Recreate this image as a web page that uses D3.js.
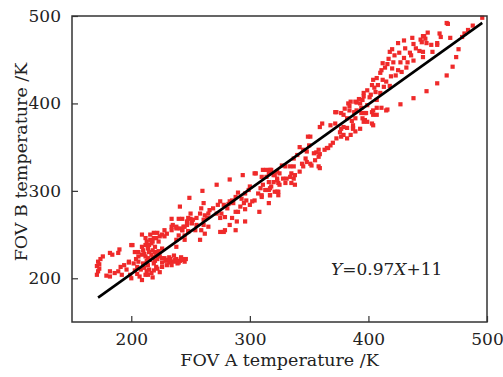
<!DOCTYPE html>
<html>
<head>
<meta charset="utf-8">
<script src="https://cdn.jsdelivr.net/npm/d3@7"></script>
<style>
  body { margin: 0; background: #fff; }
  text { font-family: "DejaVu Serif", "Liberation Serif", serif; fill: #222; }
</style>
</head>
<body>
<div id="chart"></div>
<script>
// axis ticks
var xTicks = [200, 300, 400, 500];
var yTicks = [200, 300, 400, 500];

// fit: Y = 0.97X + 11
var fitSlope = 0.97, fitIntercept = 11;
var fitRange = [172, 496];

// points, grouped by where they sit
var lowCluster = [
  [171,204],[172,208],[171,214],[172,219],[174,222],[176,225],[173,211],[173,216],
  [184,227],[189,229],[182,208],[186,206],[179,203],[201,238],[198,218],[191,213],[182,202],[189,208],[192,204],[200,200],[199,204],[190,233],[182,229],
  [200,238],[203,230],[206,230],[209,227],[206,225],[212,225],[214,223],[217,227],[221,227],[224,225],[228,223],[226,223],[230,221],[233,219],[237,221],[241,220],[244,221],[234,215],[230,215],[198,219],[202,217],[206,219],[210,217],[214,215],[219,217],[221,213],[226,213],[207,202],[209,198],[212,204],
  [212,238],[210,232],[214,234],[220,236],[226,234],[213,242],[216,244],[219,246],[221,246],[224,248],[223,242],[217,240],[228,248],[230,251],[228,255],[234,259],[238,257],[243,255],[245,259],[248,254],[238,236],
  [208,210],[211,212],[213,208],[215,210],[217,206],[219,209],[222,211],[224,207],[213,220],[216,221],[218,224],[220,220],[222,222],[211,228],[215,230],[218,232],[220,230],[223,231],[209,236],[215,238],[218,242],[212,246],[216,250],[219,252],[222,252],[226,250],[210,216],[205,213],[203,209],[196,210],[194,215],[204,222],[226,218],[232,224],[236,226],[239,217],[242,224],[246,222],[209,250],[214,204],[218,201],[205,205],
  [229,220],[232,218],[236,219],[240,218],[245,219],[243,222],[238,222],[233,222]
];

var midBand = [
  [234,268],[240,268],[241,282],[243,268],[247,265],[250,268],[251,263],[249,292],[260,300],[272,307],[283,313],
  [317,324],[320,318],[323,314],[324,309],[316,310],[314,316],[317,303],[321,299],[317,295],[324,299],[316,286],[305,320],[309,303],[307,297],[310,293],[304,289],[302,288],[300,284],[308,276],[300,305],[299,301],[296,297],[293,291],[297,289],[295,286],[292,282],[296,279],[290,276],[288,276],[296,265],[290,298],[288,293],[285,289],[283,288],[286,286],[282,285],[278,284],[281,280],[275,288],[273,284],[269,280],[266,278],[272,274],[276,274],[279,270],[275,269],[285,269],[289,265],[283,261],[279,255],[275,253],[288,255],
  [261,286],[259,280],[258,274],[262,272],[265,274],[264,269],[261,267],[255,269],[252,267],[250,274],[248,269],[251,263],[255,261],[261,261],[265,259],[259,255],[262,251],[254,255],[247,261],[244,259],[241,257],[238,259],[235,261],[234,255],[243,255],[248,253],[245,249],[240,249],[238,244],[258,244],[245,244],[278,253],[294,318],[304,320],[310,316],[311,324],
  [385,402],[390,401],[395,404],[399,398],[384,392],[390,392],[394,389],[397,381],[399,379],[372,390],[377,389],[382,383],[386,380],[387,372],[389,368],[372,377],[379,373],[382,372],[368,375],[361,377],[359,373],[376,367],[377,362],[373,360],[370,355],[368,352],[366,349],[365,349],[363,347],[358,347],[356,344],[359,342],[358,339],[351,362],[350,352],[345,347],[348,345],[354,343],[342,350],[340,341],[337,337],[347,337],[348,333],[351,331],[352,329],[355,335],[358,328],[359,326],[344,331],[345,328],[342,322],[337,328],[334,328],[330,328],[327,329],[335,320],[338,318],[334,316],[331,314],[325,320],[323,322],[321,318],[318,324],[314,324],[316,320],[328,314],[330,309],[325,307],[323,312],[320,310],[337,314],[338,307],[335,309],[318,305],[316,301],[313,301],[310,295],[317,295],[324,295],[323,299],[311,307],[349,362],
  [404,387],[403,390],[407,387],[411,395],[415,392],[397,389],[396,379],[393,371],[387,371],[385,364],[382,360],[379,364],[377,371],[403,377],[404,375]
];

var upperHump = [
  [466,492],[450,481],[460,480],[437,475],[444,473],[430,472],[425,469],[438,468],[447,477],[449,469],[458,469],[443,460],[431,463],[418,459],[422,455],[417,451],[421,447],[427,447],[433,447],[438,449],[412,446],[414,441],[425,438],[428,436],[411,438],[410,435],[419,431],[407,429],[412,427],[404,427],[403,421],[408,421],[413,419],[399,415],[406,413],[396,408],[401,407],[407,404],[393,400],[383,400],[389,402],[394,395],[398,389],[404,392],[416,393],[373,390],[379,387],[389,383],[395,383],[387,375],
  [467,491],[446,477],[448,474],[445,470],[461,476],[453,467],[458,467],[469,475],[446,459],[446,453],[454,459],
  [420,462],[426,458],[435,458],[430,452],[416,445],[420,440],[432,441],[423,432],[415,425],[418,420],[405,418],[402,410],[396,412],[410,412],[392,405],[384,397],[380,394],[388,390],[440,463],[436,455]
];

var lowerBranch = [
  [407,395],[427,399],[438,406],[449,414],[458,423],[466,432],[471,442],[474,453],[476,462],[479,476],[481,480],[484,484],[488,489],[496,498]
];

var width = 503, height = 377;
var margin = {top: 16, right: 16, bottom: 55, left: 72};
var w = width - margin.left - margin.right;
var h = height - margin.top - margin.bottom;

var svg = d3.select("#chart").append("svg")
  .attr("width", width)
  .attr("height", height);

var g = svg.append("g")
  .attr("transform", "translate(" + margin.left + "," + margin.top + ")");

var x = d3.scaleLinear().domain([150, 500]).range([0, w]);
var y = d3.scaleLinear().domain([150, 500]).range([h, 0]);

var allPoints = lowCluster.concat(midBand, upperHump, lowerBranch);

// points
var sz = 4.2;
g.append("g")
  .selectAll("rect")
  .data(allPoints)
  .enter().append("rect")
  .attr("x", function(d) { return x(d[0]) - sz / 2; })
  .attr("y", function(d) { return y(d[1]) - sz / 2; })
  .attr("width", sz)
  .attr("height", sz)
  .style("fill", "#ef2a2a");

// fit line
var line = d3.line()
  .x(function(d) { return x(d); })
  .y(function(d) { return y(fitSlope * d + fitIntercept); });
g.append("path")
  .datum(fitRange)
  .attr("d", line)
  .style("fill", "none")
  .style("stroke", "#000")
  .style("stroke-width", 2.6);

// axes, ticks inward
var xAxis = d3.axisBottom(x).tickValues(xTicks).tickSizeInner(-6).tickSizeOuter(0).tickPadding(11);
var yAxis = d3.axisLeft(y).tickValues(yTicks).tickSizeInner(-6).tickSizeOuter(0).tickPadding(11);

var gx = g.append("g").attr("transform", "translate(0," + h + ")").call(xAxis);
var gy = g.append("g").call(yAxis);
[gx, gy].forEach(function(a) {
  a.select(".domain").remove();
  a.selectAll("line").style("stroke", "#333").style("stroke-width", 1.2);
  a.selectAll("text").style("font-size", "17px").style("font-family", "DejaVu Serif").style("fill", "#222");
});

// frame
g.append("rect")
  .attr("x", 0).attr("y", 0)
  .attr("width", w).attr("height", h)
  .style("fill", "none")
  .style("stroke", "#333")
  .style("stroke-width", 1.5);

// axis titles
svg.append("text")
  .attr("x", margin.left + w / 2)
  .attr("y", 366)
  .attr("text-anchor", "middle")
  .style("font-size", "17.5px")
  .text("FOV A temperature /K");

svg.append("text")
  .attr("transform", "translate(27," + 162 + ") rotate(-90)")
  .attr("text-anchor", "middle")
  .style("font-size", "17.5px")
  .text("FOV B temperature /K");

// equation
var eq = svg.append("text")
  .attr("x", 331)
  .attr("y", 275)
  .style("font-size", "17px");
eq.append("tspan").style("font-style", "italic").text("Y");
eq.append("tspan").text("=0.97");
eq.append("tspan").style("font-style", "italic").text("X");
eq.append("tspan").text("+11");
</script>
</body>
</html>
